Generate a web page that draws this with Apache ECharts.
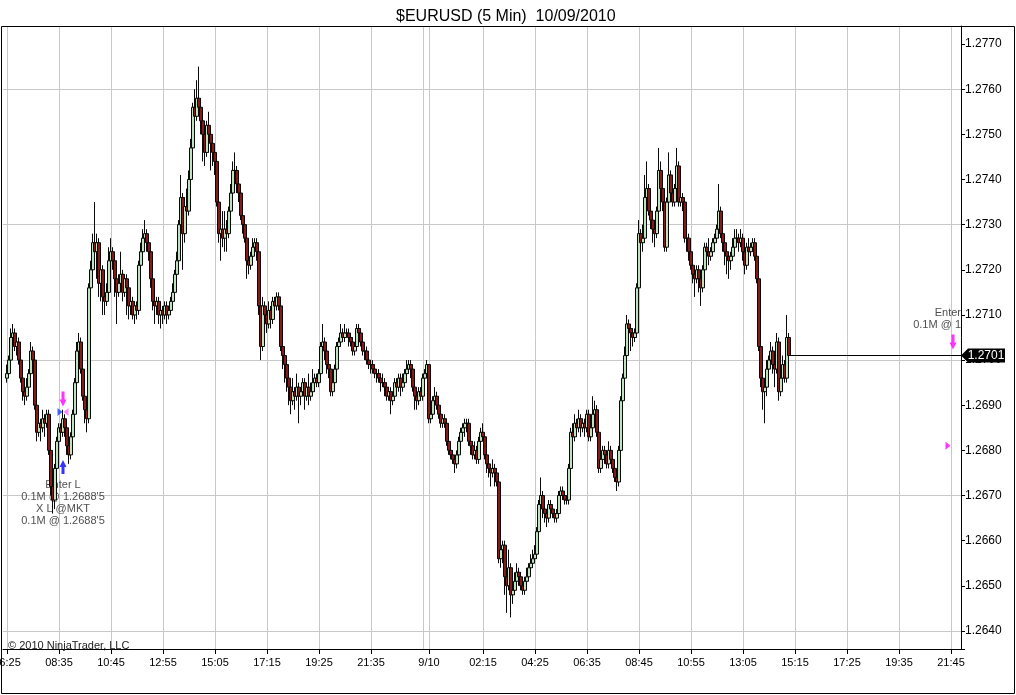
<!DOCTYPE html>
<html><head><meta charset="utf-8">
<script src="https://cdn.jsdelivr.net/npm/echarts@6/dist/echarts.min.js"></script>
<style>html,body{margin:0;padding:0;background:#fff}#c{width:1016px;height:695px}</style>
</head><body><div id="c"></div>
<script>
// Prices are stored in pips above 1.2600 (1 pip = 0.0001).
const PRICE_BASE = 1.26;
const PIP = 0.0001;
const firstBarCategory = '9/9 06:25';

const openPips = [
96,97,100,105,106,103,104,100,96,93,
92,94,97,102,100,90,84,86,85,87,
86,88,80,72,69,76,82,85,84,87,
85,81,79,83,88,95,102,104,98,92,
89,87,116,120,126,124,126,117,120,114,
113,115,122,124,122,118,115,117,119,115,
118,116,112,113,110,112,111,121,124,127,
128,126,124,118,113,112,113,110,111,110,
112,110,111,113,115,119,122,130,136,128,
134,133,140,147,156,154,158,156,153,150,
146,152,150,148,146,144,135,128,129,127,
129,128,133,137,142,142,139,137,132,130,
127,122,121,123,125,126,124,112,103,112,
110,108,111,109,113,112,114,112,103,101,
99,96,94,91,93,92,94,92,93,95,
92,94,92,93,95,96,95,97,103,104,
102,99,98,93,95,98,103,104,106,105,
106,106,105,104,102,103,107,106,104,102,
102,100,99,99,98,97,97,96,95,95,
94,92,93,91,92,95,94,96,94,95,
97,98,99,98,94,92,91,93,92,96,
97,99,87,88,91,92,90,88,86,87,
86,82,80,79,78,77,79,82,84,85,
86,86,82,81,79,80,78,82,84,83,
79,77,76,75,76,75,73,56,58,59,
52,50,54,48,49,51,53,52,50,49,
51,52,54,55,56,57,62,68,70,67,
66,65,68,67,66,65,66,70,71,70,
69,69,76,84,83,86,85,87,85,86,
85,88,83,85,88,89,84,76,78,80,
79,77,80,78,76,74,73,80,91,96,
101,108,107,106,105,106,116,128,126,127,
136,138,133,131,129,128,133,142,138,135,
125,135,141,137,135,138,143,135,136,135,
127,127,124,121,119,118,120,118,116,120,
125,124,123,124,126,127,129,133,128,126,
124,123,122,123,125,127,127,126,127,124,
121,125,124,125,126,123,118,103,96,93,
94,98,100,102,99,98,104,93,96,99,
96,105];

const closePips = [
97,100,105,106,103,104,100,96,93,92,
94,97,102,100,90,84,86,85,87,86,
88,80,72,69,76,82,85,84,87,85,
81,79,83,88,95,102,104,98,92,89,
87,116,120,126,124,126,117,120,114,113,
115,122,124,122,118,115,117,119,115,118,
116,112,113,110,112,111,121,124,127,128,
126,124,118,113,112,113,110,111,110,112,
110,111,113,115,119,122,130,136,128,134,
133,140,147,156,154,158,156,153,150,146,
152,150,148,146,144,135,128,129,127,129,
128,133,137,142,142,139,137,132,130,127,
122,121,123,125,126,124,112,103,112,110,
108,111,109,113,112,114,112,103,101,99,
96,94,91,93,92,94,92,93,95,92,
94,92,93,95,96,95,97,103,104,102,
99,98,93,95,98,103,104,106,105,106,
106,105,104,102,103,107,106,104,102,102,
100,99,99,98,97,97,96,95,95,94,
92,93,91,92,95,94,96,94,95,97,
98,99,98,94,92,91,93,92,96,97,
99,87,88,91,92,90,88,86,87,86,
82,80,79,78,77,79,82,84,85,86,
86,82,81,79,80,78,82,84,83,79,
77,76,75,76,75,73,56,58,59,52,
50,54,48,49,51,53,52,50,49,51,
52,54,55,56,57,62,68,70,67,66,
65,68,67,66,65,66,70,71,70,69,
69,76,84,83,86,85,87,85,86,85,
88,83,85,88,89,84,76,78,80,79,
77,80,78,76,74,73,80,91,96,101,
108,107,106,105,106,116,128,126,127,136,
138,133,131,129,128,133,142,138,135,125,
135,141,137,135,138,143,135,136,135,127,
127,124,121,119,118,120,118,116,120,125,
124,123,124,126,127,129,133,128,126,124,
123,122,123,125,127,127,126,127,124,121,
125,124,125,126,123,118,103,96,93,94,
98,100,102,99,98,104,93,96,99,96,
105,101];

const highPips = [
99,101,107,108,107,106,105,101,97,95,
96,98,104,103,101,91,88,87,89,88,
89,89,81,73,77,83,86,86,89,88,
86,82,84,89,96,104,106,105,99,93,
90,117,122,128,135,128,127,121,121,116,
117,125,127,125,123,119,119,124,120,119,
119,117,115,114,113,113,122,126,129,131,
129,127,125,119,114,114,114,112,112,113,
113,112,114,117,120,124,131,141,137,136,
138,142,149,157,160,162,165,158,154,151,
153,155,151,149,147,145,136,131,133,133,
131,134,139,144,146,143,140,138,133,131,
128,123,124,127,127,127,125,113,114,113,
111,113,112,114,114,115,115,113,104,102,
100,97,95,96,94,97,95,94,96,96,
95,97,95,98,97,97,98,104,108,105,
103,100,99,96,99,104,105,108,107,108,
107,107,106,105,104,108,108,107,105,103,
103,101,100,100,99,98,98,97,97,96,
95,94,94,93,96,96,97,97,97,98,
100,100,100,99,95,93,94,94,97,98,
100,99,89,92,94,93,91,89,88,88,
87,83,81,80,79,80,83,85,86,87,
87,87,83,82,82,81,83,85,86,84,
80,78,77,78,77,76,74,59,60,60,
53,58,55,51,53,55,54,53,51,52,
54,55,57,58,59,63,69,74,71,68,
67,69,69,68,67,67,71,72,72,71,
70,77,85,86,88,87,89,88,87,87,
89,89,86,92,91,90,85,80,81,81,
80,82,81,79,77,75,81,92,97,103,
110,109,108,107,107,117,131,129,130,141,
144,139,134,132,130,134,147,144,139,136,
136,146,142,138,139,147,144,138,137,136,
128,128,125,122,120,121,121,119,121,126,
126,127,125,127,128,130,139,134,129,127,
125,124,124,127,129,129,128,129,128,125,
126,127,126,127,127,124,119,104,97,95,
100,101,104,103,100,106,105,97,101,100,
110,106];

const lowPips = [
95,96,99,104,102,101,99,95,91,90,
91,93,96,98,89,82,83,82,84,83,
85,79,70,66,67,75,81,82,83,83,
79,77,78,82,87,94,101,97,91,86,
84,86,115,119,122,118,114,113,110,110,
112,114,121,120,114,108,114,116,113,114,
110,109,110,109,108,109,110,120,123,125,
124,122,116,111,108,110,108,107,108,109,
108,109,110,112,114,118,121,129,120,126,
129,132,139,146,152,153,154,150,144,143,
145,146,142,143,141,134,126,122,125,124,
124,127,132,136,140,137,135,131,128,126,
118,119,120,122,124,122,110,100,102,108,
106,107,107,108,111,111,111,102,98,95,
93,90,88,90,89,91,86,90,92,89,
91,90,91,92,93,94,94,96,102,100,
97,96,92,92,94,97,102,103,104,104,
105,103,103,101,101,102,104,103,101,100,
99,98,97,97,96,95,95,93,94,92,
91,91,88,90,91,93,93,92,93,94,
96,97,96,93,89,89,90,91,91,95,
96,86,86,87,90,89,87,85,85,85,
81,79,78,77,75,76,78,81,83,83,
84,81,79,78,78,77,77,81,82,78,
75,74,72,74,72,72,55,54,55,48,
44,49,43,46,48,50,50,49,48,48,
50,51,53,54,55,56,61,67,65,64,
63,64,66,65,64,64,65,69,69,68,
68,68,75,82,82,83,84,83,84,83,
84,82,82,84,87,83,75,75,77,77,
76,76,77,75,73,71,72,79,90,95,
100,104,102,103,104,105,115,124,124,126,
135,132,129,126,125,127,132,137,133,124,
124,134,136,134,134,137,134,134,133,126,
124,122,120,117,114,117,115,112,115,119,
123,121,122,123,125,126,128,127,124,121,
119,118,120,122,124,125,124,125,122,119,
120,123,123,124,122,117,102,94,89,86,
92,97,99,97,94,97,91,92,95,95,
95,100];

const xTickCategories = ['9/9 06:25','9/9 08:35','9/9 10:45','9/9 12:55','9/9 15:05','9/9 17:15','9/9 19:25','9/9 21:35',
  '9/10 00:00','9/10 02:15','9/10 04:25','9/10 06:35','9/10 08:45','9/10 10:55','9/10 13:05','9/10 15:15','9/10 17:25','9/10 19:35','9/10 21:45'];
const xGridOnlyCategories = ['9/9 23:45'];
const yTickLabels = ['1.2640','1.2650','1.2660','1.2670','1.2680','1.2690','1.2700','1.2710','1.2720','1.2730','1.2740','1.2750','1.2760','1.2770'];
const hGridPrices = [1.2640, 1.2670, 1.2700, 1.2730, 1.2760];
const lastPrice = 1.2701;
const lastPriceLabel = '1.2701';

// execution / order markers
const markerCats   = ['9/9 08:45','9/9 08:45','9/9 08:45','9/9 08:45','9/10 21:50','9/10 21:45'];
const markerPrices = [1.26914, 1.26763, 1.26885, 1.26885, 1.27040, 1.26810];
const markerKinds  = ['down','up','triR','triL','down','triR'];
const markerColors = ['#ff00ff','#0000ff','#1a3cff','#ff66ff','#ff00ff','#ff00ff'];

const noteCats   = ['9/9 08:45','9/10 22:10'];
const notePrices = [1.26684, 1.27091];
const noteTexts  = ["Enter L\n0.1M @ 1.2688'5\nX L @MKT\n0.1M @ 1.2688'5", "Enter\n0.1M @ 1"];

// ---- time axis: 5-minute slots from 9/9 06:15 to 9/10 22:10
function pad(n){return (n<10?'0':'')+n;}
const categories = [];
for (let k = 0; k < 480; k++) {
  const m = 6*60 + 15 + 5*k;
  const day = m >= 1440 ? '9/10' : '9/9';
  const mm = m % 1440;
  categories.push(day + ' ' + pad(Math.floor(mm/60)) + ':' + pad(mm%60));
}
const catIndex = c => categories.indexOf(c);
const firstIdx = catIndex(firstBarCategory);
const toPrice = p => +(PRICE_BASE + p*PIP).toFixed(5);

const candleData = openPips.map((o, i) => [firstIdx + i, toPrice(o), toPrice(closePips[i]), toPrice(lowPips[i]), toPrice(highPips[i])]);
const lastIdx = firstIdx + openPips.length - 1;
const endIdx = categories.length - 1;

const tickSet = new Set(xTickCategories);
const gridSet = new Set(xTickCategories.concat(xGridOnlyCategories));
const yLabelSet = new Set(yTickLabels);

const shapes = {
  down: 'path://M2,0L5,0L5,8L7,8L3.5,15L0,8L2,8Z',
  up: 'path://M3.5,0L7,7L5,7L5,14L2,14L2,7L0,7Z',
  triR: 'path://M0,0L6,4L0,8Z',
  triL: 'path://M6,0L0,4L6,8Z'
};
const sizes = {down:[7,15], up:[7,14], triR:[5,8], triL:[5,8]};
const offsets = {down:[0,0], up:[0,0], triR:[-3,0], triL:[3,0]};

const markerData = markerCats.map((c, i) => ({
  value: [catIndex(c), markerPrices[i]],
  symbol: shapes[markerKinds[i]],
  symbolSize: sizes[markerKinds[i]],
  symbolOffset: offsets[markerKinds[i]],
  itemStyle: {color: markerColors[i]}
}));

const noteData = [
  {value:[catIndex(noteCats[0]), notePrices[0]], label:{show:true, position:'inside', formatter: noteTexts[0], align:'center'}},
  {value:[catIndex(noteCats[1]), notePrices[1]], label:{show:true, position:'left', distance:0, formatter: noteTexts[1], align:'right'}}
];

const FONT = 'Liberation Sans, Arial, sans-serif';
const chart = echarts.init(document.getElementById('c'), null, {renderer:'canvas'});
chart.setOption({
  animation: false,
  backgroundColor: '#fff',
  title: [
    {text: '$EURUSD (5 Min)  10/09/2010', left: 391, top: 4, textStyle:{fontSize:16, fontWeight:'normal', color:'#000', fontFamily: FONT}},
    {text: '© 2010 NinjaTrader, LLC', left: 3, top: 635, textStyle:{fontSize:11, fontWeight:'normal', color:'#222', fontFamily: FONT}}
  ],
  grid: {left: 3, right: 55, top: 26, bottom: 46, containLabel: false, outerBoundsMode: 'none'},
  xAxis: {
    type: 'category', data: categories, boundaryGap: false,
    axisLine: {show: true, onZero: false, lineStyle: {color: '#000', width: 1}},
    axisTick: {show: true, length: 5, interval: (i, v) => tickSet.has(v), lineStyle: {color: '#000'}},
    axisLabel: {show: true, interval: (i, v) => tickSet.has(v), margin: 8, fontSize: 11, color: '#000', fontFamily: FONT,
      formatter: v => v === '9/10 00:00' ? '9/10' : v.split(' ')[1]},
    splitLine: {show: true, interval: (i, v) => gridSet.has(v), lineStyle: {color: '#c8c8c8', width: 1}}
  },
  yAxis: {
    type: 'value', position: 'right', min: 1.2636, max: 1.2774, splitNumber: 14, minInterval: 0.001, maxInterval: 0.001,
    axisLine: {show: true, lineStyle: {color: '#000', width: 1}},
    axisTick: {show: true, length: 4, lineStyle: {color: '#000'}},
    axisLabel: {margin: 4, fontSize: 12, color: '#000', fontFamily: FONT,
      formatter: v => { const s = v.toFixed(4); return yLabelSet.has(s) ? s : ''; }},
    splitLine: {show: false}
  },
  graphic: [
    {type: 'rect', shape: {x: 1.5, y: 26.5, width: 1013, height: 667}, style: {fill: 'none', stroke: '#000', lineWidth: 1}, silent: true, z: 100}
  ],
  series: [
    {
      type: 'scatter', z: 1, silent: true, symbolSize: 0, data: noteData,
      label: {fontSize: 11, lineHeight: 12, color: '#222', fontFamily: FONT},
      markLine: {silent: true, symbol: 'none', z: 1, animation: false, label: {show: false},
        lineStyle: {color: '#c8c8c8', width: 1, type: 'solid'}, emphasis: {disabled: true},
        data: hGridPrices.map(p => [{coord: [0, p]}, {coord: [endIdx, p]}])}
    },
    {
      type: 'candlestick', z: 3, data: candleData, encode: {x: 0, y: [1, 2, 3, 4]},
      barWidth: 3,
      itemStyle: {color: '#bfe3bf', color0: '#861a1a', borderColor: '#0a0a0a', borderColor0: '#0a0a0a', borderWidth: 1},
      emphasis: {disabled: true},
      markLine: {silent: true, symbol: 'none', animation: false, label: {show: false},
        lineStyle: {color: '#000', width: 1, type: 'solid'}, emphasis: {disabled: true},
        data: [[{coord: [lastIdx, lastPrice]}, {coord: [endIdx, lastPrice]}]]},
      markPoint: {silent: true, animation: false,
        data: [{coord: [endIdx, lastPrice], symbol: 'path://M0,7L7,0L44,0L44,14L7,14Z', symbolSize: [44, 14], symbolOffset: [22, 0],
          itemStyle: {color: '#000'},
          label: {show: true, position: 'inside', offset: [3, 0], formatter: lastPriceLabel, color: '#fff', fontSize: 12, fontFamily: FONT}}]}
    },
    {
      type: 'scatter', z: 10, silent: true, data: markerData
    }
  ]
});
</script>
</body></html>
